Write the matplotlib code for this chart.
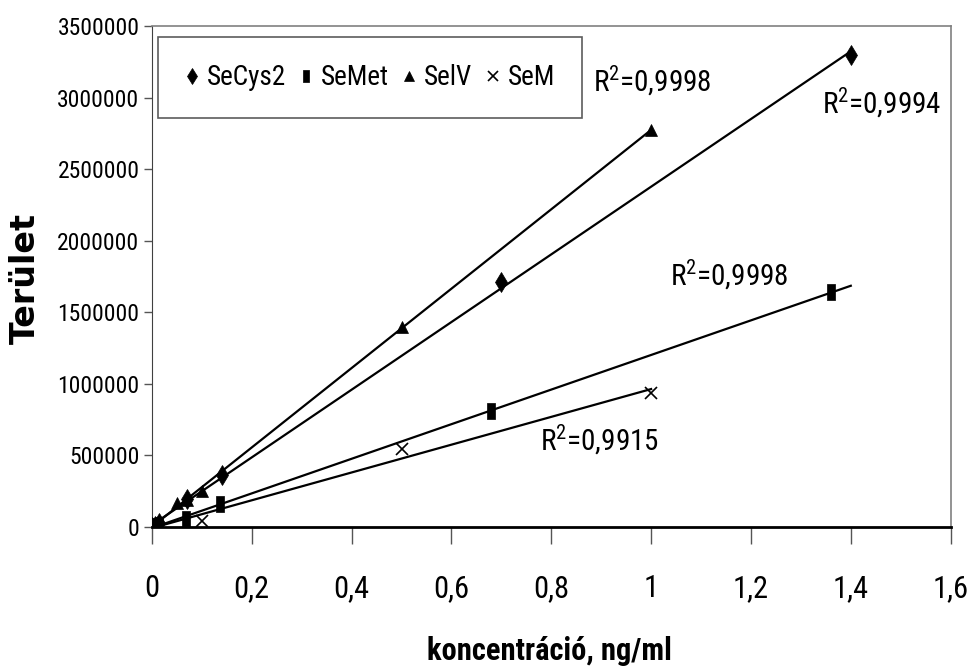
import numpy as np
import matplotlib
matplotlib.use('Agg')
import matplotlib.pyplot as plt

plt.rcParams['font.family'] = ['Roboto Condensed', 'Liberation Sans', 'DejaVu Sans']
plt.rcParams['mathtext.fontset'] = 'custom'
plt.rcParams['mathtext.rm'] = 'Roboto Condensed'

# data (x: ng/ml, y: peak area)
secys2_x = [0, 0.007, 0.014, 0.07, 0.14, 0.7, 1.4]
secys2_y = [0, 10000, 30000, 195000, 360000, 1710000, 3300000]
semet_x = [0, 0.0068, 0.0136, 0.068, 0.136, 0.68, 1.36]
semet_y = [0, 8000, 15000, 55000, 160000, 810000, 1640000]
selv_x = [0, 0.01, 0.05, 0.07, 0.1, 0.5, 1.0]
selv_y = [0, 30000, 165000, 190000, 250000, 1400000, 2770000]
sem_x = [0, 0.01, 0.1, 0.5, 1.0]
sem_y = [0, 5000, 40000, 545000, 935000]

names = ['SeCys2', 'SeMet', 'SelV', 'SeM']
r2_text = ['0,9994', '0,9998', '0,9998', '0,9915']
trend_end = [1.4, 1.4, 1.0, 1.0]

xticks = [0, 0.2, 0.4, 0.6, 0.8, 1, 1.2, 1.4, 1.6]
xticklabels = ['0', '0,2', '0,4', '0,6', '0,8', '1', '1,2', '1,4', '1,6']
yticks = [0, 500000, 1000000, 1500000, 2000000, 2500000, 3000000, 3500000]

rect = [(-0.55, -1), (0.55, -1), (0.55, 1), (-0.55, 1), (-0.55, -1)]
markers = ['d', rect, '^', 'x']
msizes = [10, 11, 9, 9]
# label positions (data coords)
r2_pos = [(1.342, 2960000), (1.037, 1760000), (0.883, 3120000), (0.777, 610000)]

fig = plt.figure(figsize=(9.74, 6.72), dpi=100)
ax = fig.add_axes([0.156, 0.2158, 0.82, 0.7455])

series = [(secys2_x, secys2_y), (semet_x, semet_y), (selv_x, selv_y), (sem_x, sem_y)]
for i, (xs, ys) in enumerate(series):
    xs = np.array(xs); ys = np.array(ys)
    ax.plot(xs, ys, linestyle='none', marker=markers[i], markersize=msizes[i],
            color='black', markeredgewidth=1.2 if markers[i] == 'x' else 0.5,
            label=names[i], zorder=3)
    k, b = np.polyfit(xs, ys, 1)
    xx = np.array([0, trend_end[i]])
    ax.plot(xx, k * xx + b, color='black', lw=1.6, zorder=2)
    ax.text(r2_pos[i][0], r2_pos[i][1], '$\\mathregular{R^2}$=' + r2_text[i],
            fontsize=21, va='center', ha='left')

ax.set_xlim(0, 1.6)
ax.set_ylim(0, 3500000)
ax.set_xticks(xticks)
ax.set_xticklabels(xticklabels, fontsize=22)
ax.set_yticks(yticks)
ax.set_yticklabels([str(v) for v in yticks], fontsize=17)
ax.tick_params(axis='x', direction='out', length=12, width=1, pad=22, color='#555555')
ax.tick_params(axis='y', direction='out', length=6, width=1, pad=3, color='#555555')

for s in ['top', 'right']:
    ax.spines[s].set_color('#808080')
    ax.spines[s].set_linewidth(1.2)
ax.spines['left'].set_color('#404040')
ax.spines['bottom'].set_color('black')
ax.spines['bottom'].set_linewidth(2)

ax.set_xlabel('koncentráció, ng/ml', fontsize=22, fontweight='bold', va='baseline')
ax.xaxis.set_label_coords(0.498, -0.2655)
ax.set_ylabel('Terület', fontsize=24, fontweight='bold',
              family=['DejaVu Sans'], va='center')
ax.yaxis.set_label_coords(-0.158, 0.496)

leg = ax.legend(loc='upper left', bbox_to_anchor=(0.0075, 0.978), ncol=4,
                fontsize=19.5, frameon=True, fancybox=False, borderpad=1.0,
                handlelength=0.5, handletextpad=0.3, columnspacing=0.5,
                markerscale=0.8, borderaxespad=0)
leg.get_frame().set_edgecolor('#333333')
leg.get_frame().set_linewidth(1.2)

fig.savefig('out.png', dpi=100)
